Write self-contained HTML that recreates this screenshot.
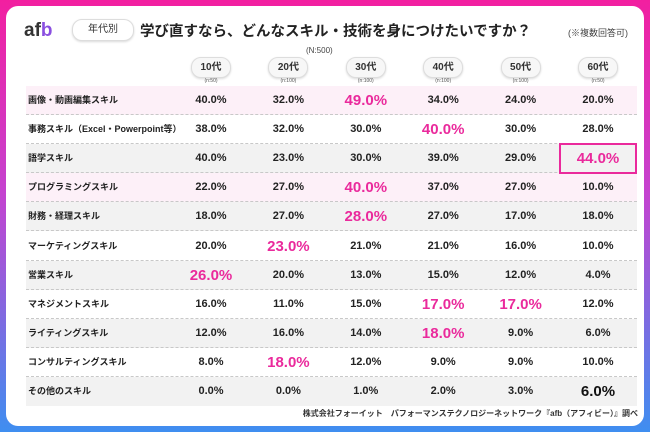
<!DOCTYPE html>
<html><head><meta charset="utf-8">
<style>
*{margin:0;padding:0;box-sizing:border-box}
body{width:650px;height:432px;overflow:hidden;background:linear-gradient(180deg,#f21fa0 0%,#c443d0 45%,#3f8ef0 100%);font-family:"Liberation Sans","Noto Sans CJK JP",sans-serif;position:relative}
#card{position:absolute;left:6px;top:6px;width:638px;height:420px;background:#fff;border-radius:12px}
.abs{position:absolute}
.pill{position:absolute;border:1px solid #ddd;border-radius:10px;background:#f7f7f7;box-shadow:0 1px 2px rgba(0,0,0,.15);font-size:10px;font-weight:bold;color:#333;text-align:center}
.row{position:absolute;left:20px;width:611px;height:29px;border-bottom:1px dashed #c8c8c8}
.lab{position:absolute;left:2px;font-size:9px;font-weight:bold;color:#222;line-height:29px}
.val{position:absolute;width:76px;text-align:center;line-height:29px;font-weight:bold;color:#222;font-size:11px}
.hi{color:#ea2a9c;font-size:15px}
.blk{font-size:15px;color:#111}
</style></head><body>
<div id="card">
<div class="abs" style="left:18px;top:14px;font-size:19px;font-weight:bold;color:#333">af<span style="color:#8a4fe0">b</span></div>
<div class="pill" style="left:66px;top:13px;width:62px;height:22px;line-height:20px;background:#fff;font-weight:normal">年代別</div>
<div class="abs" style="left:134px;top:14px;font-size:14.5px;font-weight:bold;color:#222">学び直すなら、どんなスキル・技術を身につけたいですか？</div>
<div class="abs" style="left:562px;top:20px;font-size:9px;color:#444">(※複数回答可)</div>
<div class="abs" style="left:300px;top:40px;font-size:8px;color:#444">(N:500)</div>
<div class="abs" style="right:6px;top:402px;font-size:8px;font-weight:bold;color:#333">株式会社フォーイット　パフォーマンステクノロジーネットワーク『afb（アフィビー）』調べ</div>
</div>
<script>
const ages=["10代","20代","30代","40代","50代","60代"];
const ns=["(n:50)","(n:100)","(n:100)","(n:100)","(n:100)","(n:50)"];
const skills=["画像・動画編集スキル","事務スキル（Excel・Powerpoint等）","語学スキル","プログラミングスキル","財務・経理スキル","マーケティングスキル","営業スキル","マネジメントスキル","ライティングスキル","コンサルティングスキル","その他のスキル"];
const v10=[40,38,40,22,18,20,26,16,12,8,0];
const v20=[32,32,23,27,27,23,20,11,16,18,0];
const v30=[49,30,30,40,28,21,13,15,14,12,1];
const v40=[34,40,39,37,27,21,15,17,18,9,2];
const v50=[24,30,29,27,17,16,12,17,9,9,3];
const v60=[20,28,44,10,18,10,4,12,6,10,6];
const cols=[v10,v20,v30,v40,v50,v60];
const bgs=["#fdf0f8","#fff","#f2f2f2","#fdf0f8","#f2f2f2","#fff","#f2f2f2","#fff","#f2f2f2","#fff","#f2f2f2"];
const card=document.getElementById('card');
const colX=i=>205+i*77.4;
const rowY=r=>80+r*29.1;
ages.forEach((a,i)=>{
 const p=document.createElement('div');p.className='pill';
 
 
 p.style.cssText=`left:${colX(i)-20}px;top:51px;width:40px;height:21px;line-height:20px`;
 p.textContent=a;card.appendChild(p);
 const n=document.createElement('div');n.className='abs';
 
 
 n.style.cssText=`left:${colX(i)-30}px;width:60px;text-align:center;top:72px;font-size:5px;color:#555`;
 n.textContent=ns[i];card.appendChild(n);
});
skills.forEach((s,r)=>{
 const row=document.createElement('div');row.className='row';
 
 
 row.style.top=rowY(r)+'px';row.style.background=bgs[r];
 if(r==10)row.style.borderBottom='none';
 const l=document.createElement('div');l.className='lab';
 
 
 l.textContent=s;row.appendChild(l);
 const vals=cols.map(c=>c[r]);const mx=Math.max(...vals);
 vals.forEach((v,i)=>{
  const d=document.createElement('div');d.className='val';
  
  
  if(v===mx)d.className+=(r==10?' blk':' hi');
  d.style.left=(colX(i)-20-38)+'px';
  d.textContent=v.toFixed(1)+'%';row.appendChild(d);
 });
 card.appendChild(row);
});
const bx=document.createElement('div');bx.className='abs';


bx.style.cssText=`left:${colX(5)-39}px;top:${rowY(2)-1}px;width:78px;height:31px;border:2px solid #ea2a9c`;
card.appendChild(bx);
</script>
</body></html>
